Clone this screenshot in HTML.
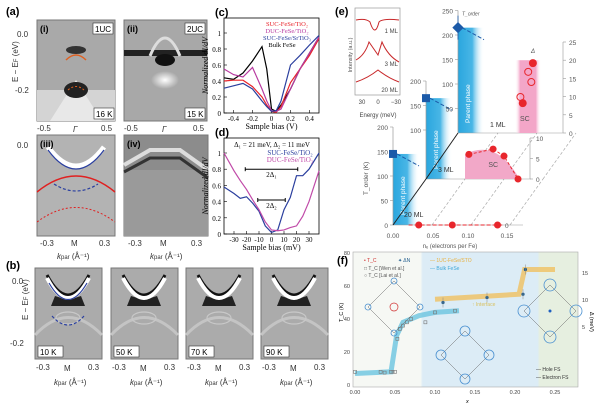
<!DOCTYPE html>
<html><head><meta charset="utf-8"><style>
body{margin:0;background:#fff;width:600px;height:406px;overflow:hidden}
svg{display:block;font-family:"Liberation Sans",sans-serif}
.serif{font-family:"Liberation Serif",serif}
</style></head><body>
<svg id="fig" width="600" height="406" viewBox="0 0 600 406">
<defs>
<linearGradient id="blueFade" x1="0" x2="1"><stop offset="0" stop-color="#2aa6de"/><stop offset="0.55" stop-color="#49b6e6"/><stop offset="1" stop-color="#fff" stop-opacity="0"/></linearGradient>
<linearGradient id="pinkFade" x1="0" x2="1"><stop offset="0" stop-color="#fff" stop-opacity="0"/><stop offset="0.2" stop-color="#f3a6c8"/><stop offset="0.8" stop-color="#f3a6c8"/><stop offset="1" stop-color="#fff" stop-opacity="0"/></linearGradient>
<linearGradient id="fbg" x1="0" x2="1"><stop offset="0" stop-color="#f6f8f4"/><stop offset="0.3" stop-color="#f6f8f4"/><stop offset="0.31" stop-color="#dcecf6"/><stop offset="0.82" stop-color="#dcecf6"/><stop offset="0.83" stop-color="#e6efe0"/><stop offset="1" stop-color="#e6efe0"/></linearGradient>
<radialGradient id="spot"><stop offset="0" stop-color="#fff"/><stop offset="1" stop-color="#fff" stop-opacity="0"/></radialGradient>
</defs>

<text x="6" y="15" font-size="11" font-weight="bold">(a)</text>
<g>
<rect x="37" y="20" width="78" height="101" fill="#a9a9a9" stroke="#777"/>
<rect x="37" y="90" width="78" height="31" fill="#d4d4d4"/>
<path d="M50 121 L76 80 L102 121Z" fill="#e8e8e8"/>
<ellipse cx="76" cy="90" rx="12" ry="8" fill="#222"/>
<ellipse cx="76" cy="50" rx="10" ry="4" fill="#333"/>
<path d="M66 60 Q76 50 86 60" stroke="#e06020" stroke-width="1.5" fill="none"/>
<path d="M68 90 Q76 83 84 90" stroke="#e06020" stroke-width="1" stroke-dasharray="2,2" fill="none"/>
<text x="40" y="32" font-size="9" font-weight="bold">(i)</text>
<rect x="93" y="23" width="20" height="11" fill="#fff" stroke="#333" stroke-width=".6"/><text x="95" y="32" font-size="8">1UC</text>
<rect x="94" y="108" width="20" height="11" fill="#fff" stroke="#333" stroke-width=".6"/><text x="96" y="117" font-size="8">16 K</text>
</g>
<g>
<rect x="124" y="20" width="83" height="101" fill="#a8a8a8" stroke="#777"/>
<rect x="124" y="50" width="83" height="6" fill="#222"/>
<ellipse cx="165" cy="60" rx="10" ry="6" fill="#111"/>
<path d="M150 56 Q165 20 180 56" stroke="#ddd" stroke-width="3" fill="none"/>
<ellipse cx="165" cy="80" rx="14" ry="9" fill="url(#spot)"/>
<text x="127" y="32" font-size="9" font-weight="bold">(ii)</text>
<rect x="185" y="23" width="20" height="11" fill="#fff" stroke="#333" stroke-width=".6"/><text x="187" y="32" font-size="8">2UC</text>
<rect x="185" y="108" width="20" height="11" fill="#fff" stroke="#333" stroke-width=".6"/><text x="187" y="117" font-size="8">15 K</text>
</g>
<g font-size="8" fill="#333">
<text x="17" y="37">0.0</text><text x="15" y="93">-0.2</text>
<text x="6" y="90" transform="rotate(-90 8 80)" font-size="8">E − E<tspan font-size="6">F</tspan> (eV)</text>
<text x="37" y="131">-0.5</text><text x="73" y="132" font-style="italic">Γ</text><text x="101" y="131">0.5</text>
<text x="124" y="131">-0.5</text><text x="162" y="132" font-style="italic">Γ</text><text x="193" y="131">0.5</text>
</g>
<g>
<rect x="37" y="135" width="78" height="101" fill="#b3b3b3" stroke="#777"/>
<path d="M48 147 Q76 185 104 147" stroke="#fff" stroke-width="5" fill="none"/>
<path d="M48 150 Q76 188 104 150" stroke="#2a3fa0" stroke-width="1.2" fill="none"/>
<path d="M37 192 Q76 160 115 192" stroke="#e02020" stroke-width="1.5" fill="none"/>
<path d="M54 184 Q76 198 98 184" stroke="#2a3fa0" stroke-width="1.2" stroke-dasharray="3,2" fill="none"/>
<path d="M37 222 Q76 193 115 222" stroke="#e02020" stroke-width="1" stroke-dasharray="2,2" fill="none"/>
<text x="40" y="147" font-size="9" font-weight="bold">(iii)</text>
</g>
<g>
<rect x="124" y="135" width="84" height="101" fill="#8c8c8c" stroke="#777"/>
<rect x="124" y="170" width="84" height="66" fill="#9a9a9a"/>
<path d="M124 165 L150 150 L180 150 L208 170" stroke="#ddd" stroke-width="4" fill="none"/>
<path d="M124 172 L150 158 L180 158 L208 178" stroke="#333" stroke-width="3" fill="none"/>
<text x="127" y="147" font-size="9" font-weight="bold">(iv)</text>
</g>
<g font-size="8" fill="#333">
<text x="17" y="148">0.0</text>
<text x="40" y="246">-0.3</text><text x="71" y="246">M</text><text x="99" y="246">0.3</text>
<text x="128" y="246">-0.3</text><text x="160" y="246">M</text><text x="191" y="246">0.3</text>
<text x="57" y="259" font-style="italic">k<tspan font-size="6" font-style="normal">par</tspan><tspan font-style="normal"> (Å⁻¹)</tspan></text>
<text x="150" y="259" font-style="italic">k<tspan font-size="6" font-style="normal">par</tspan><tspan font-style="normal"> (Å⁻¹)</tspan></text>
</g>

<text x="6" y="269" font-size="11" font-weight="bold">(b)</text>
<g id="bpanels"></g>
<g font-size="8" fill="#333">
<text x="12" y="284">0.0</text><text x="10" y="346">-0.2</text>
<text x="4" y="336" transform="rotate(-90 8 316)">E − E<tspan font-size="6">F</tspan> (eV)</text>
</g>

<g id="cd"></g>
<g id="eg"></g>
<g id="fg"></g>
</svg>
<script>
const NS="http://www.w3.org/2000/svg";
function mk(parent,tag,attrs,txt){const e=document.createElementNS(NS,tag);for(const k in attrs)e.setAttribute(k,attrs[k]);if(txt!==undefined)e.textContent=txt;parent.appendChild(e);return e;}

/* ---------- (b) panels ---------- */
const bTemps=["10 K","50 K","70 K","90 K"];
const bX=[35,111,186,261];
const bg=document.getElementById('bpanels');
bTemps.forEach((t,i)=>{
  const g=mk(bg,'g',{});
  
  
  const x=bX[i],w=67;
  mk(g,'rect',{x:x,y:268,width:w,height:91,fill:'#ababab',stroke:'#777'});
  mk(g,'path',{d:`M${x} 335 Q${x+33} 300 ${x+w} 335`,stroke:'#c4c4c4','stroke-width':3,fill:'none'});
  mk(g,'path',{d:`M${x+20} 296 L${x+33} 300 L${x+46} 296 L${x+50} 306 L${x+16} 306Z`,fill:'#222'});
  mk(g,'path',{d:`M${x+12} 278 Q${x+33} 318 ${x+54} 278`,stroke:'#111','stroke-width':3,fill:'none',transform:'translate(0,-3)'});
  mk(g,'path',{d:`M${x+12} 278 Q${x+33} 318 ${x+54} 278`,stroke:'#fff','stroke-width':4,fill:'none'});
  mk(g,'ellipse',{cx:x+33,cy:318,rx:12,ry:6,fill:'none',stroke:'#c8c8c8','stroke-width':1.2});
  if(i===0){
    mk(g,'path',{d:`M${x+14} 283 Q${x+33} 316 ${x+52} 283`,stroke:'#2a3fa0','stroke-width':1.2,fill:'none'});
    mk(g,'path',{d:`M${x+17} 316 Q${x+33} 334 ${x+49} 316`,stroke:'#2a3fa0','stroke-width':1.2,'stroke-dasharray':'3,2',fill:'none'});
  }
  mk(g,'rect',{x:x+3,y:346,width:25,height:11,fill:'#fff',stroke:'#333','stroke-width':.6});
  mk(g,'text',{x:x+5,y:355,'font-size':8},t);
  const a=mk(g,'g',{'font-size':8,fill:'#333'});
  mk(a,'text',{x:x+1,y:370},'-0.3');mk(a,'text',{x:x+29,y:371},'M');mk(a,'text',{x:x+53,y:370},'0.3');
  const kl=mk(a,'text',{x:x+19,y:385,'font-style':'italic'},'k');
  mk(kl,'tspan',{'font-size':6,'font-style':'normal'},'par');
  mk(kl,'tspan',{'font-style':'normal'},' (Å⁻¹)');
});

/* ---------- (c) data ---------- */
const cBias=[-0.5,-0.4,-0.3,-0.2,-0.1,-0.05,0,0.05,0.1,0.2,0.3,0.4,0.5];
const cBulk=[0.44,0.42,0.50,0.65,0.83,0.55,0.05,0.02,0.10,0.30,0.55,0.75,0.95];
const cSucTi=[0.40,0.41,0.41,0.33,0.20,0.10,0.02,0.01,0.08,0.38,0.55,0.72,0.93];
const cDuc=[0.55,0.48,0.45,0.57,0.30,0.15,0.03,0.02,0.05,0.30,0.55,0.75,0.95];
const cSucSr=[0.31,0.34,0.37,0.30,0.15,0.08,0.02,0.03,0.15,0.60,0.72,0.85,0.97];
const cTicksX=[-0.4,-0.2,0,0.2,0.4];
const cTicksY=[0,0.2,0.4,0.6,0.8,1];
/* ---------- (d) data ---------- */
const dBias=[-38,-30,-25,-20,-15,-10,-5,0,5,10,15,20,25,30,38];
const dSuc=[0.58,0.50,0.44,0.46,0.38,0.28,0.10,0.02,0.05,0.30,0.45,0.72,0.72,0.80,1.00];
const dDuc=[1.00,0.78,0.66,0.55,0.42,0.30,0.15,0.05,0.04,0.05,0.08,0.10,0.22,0.40,0.78];
const dTicksX=[-30,-20,-10,0,10,20,30];
const dTicksY=[0,0.2,0.4,0.6,0.8,1];

const cd=document.getElementById('cd');
function linePlot(cfg){
  const {x0,x1,yTop,y0,xmin,xmax,series,xs,ticksX,ticksY,name,label,xlabel}=cfg;
  const sx=v=>x0+(v-xmin)/(xmax-xmin)*(x1-x0);
  const sy=v=>y0-v*(y0-yTop-15);
  const g=mk(cd,'g',{});
  
  
  const box=mk(g,'rect',{x:x0,y:yTop,width:x1-x0,height:y0-yTop,fill:'none',stroke:'#000','stroke-width':.8});
  
  
  ticksX.forEach(t=>{mk(g,'line',{x1:sx(t),x2:sx(t),y1:y0,y2:y0-3,stroke:'#000','stroke-width':.6});
    const tl=mk(g,'text',{x:sx(t),y:y0+8,'font-size':7,'text-anchor':'middle',class:'serif'},String(t));
    
    });
  ticksY.forEach(t=>{mk(g,'line',{x1:x0,x2:x0+3,y1:sy(t),y2:sy(t),stroke:'#000','stroke-width':.6});
    const tl=mk(g,'text',{x:x0-3,y:sy(t)+3,'font-size':7,'text-anchor':'end',class:'serif'},String(t));
    
    });
  series.forEach(s=>{
    const p=mk(g,'polyline',{points:xs.map((v,i)=>sx(v)+','+sy(s.v[i])).join(' '),fill:'none',stroke:s.c,'stroke-width':1.2});
    
    
  });
  const xl=mk(g,'text',{x:(x0+x1)/2,y:y0+16,'font-size':8,'text-anchor':'middle',class:'serif'},xlabel);
  
  
  const yl=mk(g,'text',{x:0,y:0,'font-size':8,'text-anchor':'middle',class:'serif','font-style':'italic',transform:`translate(${x0-16},${(yTop+y0)/2}) rotate(-90)`},'Normalized dI/dV');
  
  
  const pl=mk(g,'text',{x:x0-9,y:yTop-2,'font-size':11,'font-weight':'bold'},label);
  
  
  return {g,sx,sy};
}
const c=linePlot({x0:224,x1:319,yTop:18,y0:113,xmin:-0.5,xmax:0.5,xs:cBias,ticksX:cTicksX,ticksY:cTicksY,name:'panel-c-chart',label:'(c)',xlabel:'Sample bias (V)',
  series:[{n:'bulk-fese',c:'#000',v:cBulk},{n:'suc-fese-tio2',c:'#e8232a',v:cSucTi},{n:'duc-fese-tio2',c:'#b83aa0',v:cDuc},{n:'suc-fese-srtio3',c:'#2b3f9e',v:cSucSr}]});
[['SUC-FeSe/TiO₂','#e8232a',26],['DUC-FeSe/TiO₂','#b83aa0',33],['SUC-FeSe/SrTiO₃','#2b3f9e',40],['Bulk FeSe','#000',47]].forEach(l=>{
  const t=mk(c.g,'text',{x:l[2]===47?282:287,y:l[2],'font-size':6.5,'text-anchor':'middle',fill:l[1],class:'serif'},l[0]);
  
  
});
const d=linePlot({x0:224,x1:319,yTop:138,y0:234,xmin:-38,xmax:38,xs:dBias,ticksX:dTicksX,ticksY:dTicksY,name:'panel-d-chart',label:'(d)',xlabel:'Sample bias (mV)',
  series:[{n:'suc-fese-tio2',c:'#2b3f9e',v:dSuc},{n:'duc-fese-tio2',c:'#c04aa8',v:dDuc}]});
[['Δ₁ = 21 meV, Δ₂ = 11 meV','#000',147],['SUC-FeSe/TiO₂','#2b3f9e',155],['DUC-FeSe/TiO₂','#c04aa8',162]].forEach((l,i)=>{
  const t=mk(d.g,'text',{x:i?290:272,y:l[2],'font-size':7,'text-anchor':'middle',fill:l[1],class:'serif'},l[0]);
  
  
});
const d1=21,d2=11;
[[d1,0.8,'2Δ₁'],[d2,0.42,'2Δ₂']].forEach(a=>{
  const y=d.sy(a[1]);
  mk(d.g,'line',{x1:d.sx(-a[0]),x2:d.sx(a[0]),y1:y,y2:y,stroke:'#000','stroke-width':1});
  mk(d.g,'line',{x1:d.sx(-a[0]),x2:d.sx(-a[0]),y1:y-2,y2:y+2,stroke:'#000'});
  mk(d.g,'line',{x1:d.sx(a[0]),x2:d.sx(a[0]),y1:y-2,y2:y+2,stroke:'#000'});
  mk(d.g,'text',{x:d.sx(0),y:y+8,'font-size':7,'text-anchor':'middle',class:'serif'},a[2]);
});

/* ---------- (e) ---------- */
const eg=document.getElementById('eg');
mk(eg,'text',{x:335,y:15,'font-size':11,'font-weight':'bold'},'(e)');
const inset=mk(eg,'g',{});


mk(inset,'rect',{x:355,y:8,width:45,height:87,fill:'#fff',stroke:'#999','stroke-width':.7});
mk(inset,'path',{d:'M356 20 Q366 18 370 22 Q375 38 379 22 Q383 18 399 20',stroke:'#c8282a',fill:'none','stroke-width':1});
mk(inset,'path',{d:'M356 60 Q365 55 369 42 L378 55 L382 42 Q388 56 399 62',stroke:'#c8282a',fill:'none','stroke-width':1});
mk(inset,'path',{d:'M356 82 Q368 78 378 70 Q388 78 399 82',stroke:'#c8282a',fill:'none','stroke-width':1});
[['1 ML',33],['3 ML',66],['20 ML',92]].forEach(l=>mk(inset,'text',{x:398,y:l[1],'font-size':6,'text-anchor':'end',fill:'#444'},l[0]));
mk(inset,'text',{x:0,y:0,'font-size':5.5,fill:'#555','text-anchor':'middle',transform:'translate(352,55) rotate(-90)'},'Intensity (a.u.)');
[['30',362],['0',378],['−30',396]].forEach(l=>mk(inset,'text',{x:l[1],y:104,'font-size':6,'text-anchor':'middle',fill:'#444'},l[0]));
mk(inset,'text',{x:378,y:117,'font-size':6,'text-anchor':'middle',fill:'#444'},'Energy (meV)');

// 3D diagram data (layer order: 20 ML, 3 ML, 1 ML)
const eTorder=[145,165,215];
const eSC3x=[0.055,0.086,0.10,0.118];
const eSC3d=[6,7.3,5.6,0];
const e1mlX=[0.096,0.09,0.094,0.08,0.083];
const e1mlD=[19.2,16.8,14,9.9,8.2];
const e1mlFilled=[1,0,0,0,1];
const e20x=[0.033,0.076,0.134];
const layers=[{ox:393,oy:225,sT:(225-127)/200,label:'20 ML',lx:404,ly:217},{ox:426,oy:179,sT:(179-81)/200,label:'3 ML',lx:438,ly:172},{ox:458,oy:133,sT:(133-35)/200,label:'1 ML',lx:490,ly:127}];
const nx=v=>v*780;
const e3=mk(eg,'g',{});


layers.forEach((L,i)=>{
  const g=mk(e3,'g',{});
  
  
  const Ty=L.oy-eTorder[i]*L.sT;
  mk(g,'rect',{x:L.ox,y:Ty,width:26,height:L.oy-Ty,fill:'url(#blueFade)'});
  const tks=i==2?[50,100,150,200,250]:i==1?[100,150,200]:[0,50,100,150,200];
  mk(g,'line',{x1:L.ox,x2:L.ox,y1:L.oy,y2:L.oy-tks[tks.length-1]*L.sT,stroke:'#999','stroke-width':.7});
  tks.forEach(t=>{
    const y=L.oy-t*L.sT;
    mk(g,'line',{x1:L.ox-3,x2:L.ox,y1:y,y2:y,stroke:'#999','stroke-width':.6});
    const tl=mk(g,'text',{x:L.ox-5,y:y+3,'font-size':6.5,'text-anchor':'end',fill:'#555'},String(t));
    
    
  });
  if(i==2){mk(g,'line',{x1:L.ox,x2:L.ox,y1:Ty-12,y2:Ty+12,stroke:'#1c5aa8','stroke-width':.8});
    mk(g,'text',{x:L.ox+4,y:Ty-12,'font-size':5,fill:'#555','font-style':'italic'},'T_order');}
  const mkr=mk(g,'rect',{x:L.ox-4,y:Ty-4,width:8,height:8,fill:'#1c5aa8',transform:i==2?`rotate(45 ${L.ox} ${Ty})`:''});
  
  
  mk(g,'line',{x1:L.ox+4,y1:Ty,x2:L.ox+26,y2:Ty+12,stroke:'#1c5aa8','stroke-dasharray':'4,2'});
  mk(g,'text',{x:0,y:0,'font-size':6.5,fill:'#fff',transform:`translate(${L.ox+12},${L.oy-10}) rotate(-90)`},'Parent phase');
  mk(g,'line',{x1:L.ox,x2:L.ox+(i==0?130:105),y1:L.oy,y2:L.oy,stroke:'#999','stroke-width':.6});
  if(i<2)[0.05,0.10,0.15].forEach(v=>{
    mk(g,'line',{x1:L.ox+nx(v),y1:L.oy,x2:L.ox+nx(v)+33,y2:L.oy-46,stroke:'#aaa','stroke-dasharray':'3,2','stroke-width':.7});
  });
  mk(g,'text',{x:L.lx,y:L.ly,'font-size':7,fill:'#333'},L.label);
});
mk(e3,'line',{x1:393,y1:225,x2:426,y2:179,stroke:'#222','stroke-width':1});
mk(e3,'line',{x1:426,y1:179,x2:458,y2:133,stroke:'#222','stroke-width':1});
// 3ML SC dome
const g3=layers[1], dS=(179-138)/10;
mk(e3,'path',{d:`M${g3.ox+nx(0.05)} ${g3.oy} L${g3.ox+nx(0.05)} ${g3.oy-6*dS} Q${g3.ox+nx(0.09)} ${g3.oy-10*dS} ${g3.ox+nx(0.12)} ${g3.oy}Z`,fill:'#f2a8c8'});
mk(e3,'text',{x:g3.ox+nx(0.08),y:g3.oy-12,'font-size':7,fill:'#555'},'SC');
mk(e3,'polyline',{points:eSC3x.map((v,i)=>(g3.ox+nx(v))+','+(g3.oy-eSC3d[i]*dS)).join(' '),fill:'none',stroke:'#e8262c','stroke-dasharray':'3,2'});
eSC3x.forEach((v,i)=>{const p=mk(e3,'circle',{cx:g3.ox+nx(v),cy:g3.oy-eSC3d[i]*dS,r:3.5,fill:'#e8262c'});
  
  });
mk(e3,'line',{x1:530,x2:530,y1:g3.oy,y2:g3.oy-10*dS,stroke:'#999','stroke-width':.6});
[0,5,10].forEach(t=>{mk(e3,'line',{x1:530,x2:533,y1:g3.oy-t*dS,y2:g3.oy-t*dS,stroke:'#999','stroke-width':.6});
  mk(e3,'text',{x:536,y:g3.oy-t*dS+3,'font-size':6.5,fill:'#555'},String(t));});
// 1ML
const g1=layers[2], dS1=(133-42)/25;
mk(e3,'rect',{x:g1.ox+57,y:g1.oy-20*dS1,width:26,height:20*dS1,fill:'url(#pinkFade)'});
mk(e3,'text',{x:g1.ox+62,y:g1.oy-12,'font-size':7,fill:'#555'},'SC');
mk(e3,'text',{x:g1.ox+73,y:g1.oy-80,'font-size':6,fill:'#555','font-style':'italic'},'Δ');
e1mlX.forEach((v,i)=>{const p=mk(e3,'circle',{cx:g1.ox+nx(v),cy:g1.oy-e1mlD[i]*dS1,r:3.5,fill:e1mlFilled[i]?'#e8262c':'none',stroke:'#e8262c'});
  
  });
mk(e3,'line',{x1:563,x2:563,y1:133,y2:42,stroke:'#999','stroke-width':.6});
[0,5,10,15,20,25].forEach(t=>{mk(e3,'line',{x1:563,x2:566,y1:133-t*dS1,y2:133-t*dS1,stroke:'#999','stroke-width':.6});
  mk(e3,'text',{x:569,y:136-t*dS1,'font-size':6.5,fill:'#555'},String(t));});
// 20ML
const g20=layers[0];
mk(e3,'line',{x1:g20.ox+nx(0.02),x2:g20.ox+nx(0.14),y1:225,y2:225,stroke:'#e8262c','stroke-dasharray':'4,2'});
e20x.forEach(v=>{const p=mk(e3,'circle',{cx:g20.ox+nx(v),cy:225,r:3.5,fill:'#e8262c'});
  
  });
mk(e3,'text',{x:505,y:228,'font-size':6.5,fill:'#555'},'0');
[[0,393],[0.05,433],[0.10,468],[0.15,507]].forEach(v=>mk(e3,'text',{x:v[1],y:238,'font-size':6.5,'text-anchor':'middle',fill:'#555'},v[0].toFixed(2)));
mk(e3,'text',{x:450,y:248,'font-size':6,'text-anchor':'middle',fill:'#555'},'nₑ (electrons per Fe)');
mk(e3,'text',{x:0,y:0,'font-size':6.5,fill:'#555',transform:'translate(368,195) rotate(-90)'},'T_order (K)');

/* ---------- (f) ---------- */
const fCats=[0,0.05,0.10,0.15,0.20,0.25];
const fTcX=[0,0.032,0.037,0.045,0.047,0.05,0.053,0.056,0.06,0.065,0.07,0.088,0.1,0.125];
const fTcY=[8,8,7.5,8,8,8,28,34,36,38,40,38,44,45];
const fInterfaceX=[0.11,0.165,0.21,0.213];
const fInterfaceY=[50,53,55,70];
const fBulkX=[0,0.045,0.052,0.06,0.08,0.1,0.13];
const fBulkY=[7,8,30,38,42,44,45];
const fYTicks=[0,20,40,60,80];
const fRTicks=[5,10,15];
const fg=document.getElementById('fg');
mk(fg,'text',{x:337,y:264,'font-size':11,'font-weight':'bold'},'(f)');
const fx=v=>355+v/0.25*200, fy=v=>385-v/80*132, fr=v=>354-v*5.4;
const fp=mk(fg,'g',{});


mk(fp,'rect',{x:353,y:252,width:225,height:135,fill:'url(#fbg)',stroke:'#aaa','stroke-width':.6});
fYTicks.forEach(t=>{mk(fp,'text',{x:350,y:fy(t)+2,'font-size':5.5,'text-anchor':'end',fill:'#444'},String(t));});
fRTicks.forEach(t=>{mk(fp,'text',{x:582,y:fr(t)+2,'font-size':5.5,fill:'#444'},String(t));});
fCats.forEach(t=>mk(fp,'text',{x:fx(t),y:394,'font-size':5.5,'text-anchor':'middle',fill:'#444'},t.toFixed(2)));
mk(fp,'text',{x:466,y:403,'font-size':5.5,'font-style':'italic'},'x');
mk(fp,'text',{x:0,y:0,'font-size':5.5,transform:'translate(343,322) rotate(-90)'},'T_C (K)');
mk(fp,'text',{x:0,y:0,'font-size':5.5,transform:'translate(590,312) rotate(90)'},'Δ (meV)');
const bl=mk(fp,'polyline',{points:fBulkX.map((v,i)=>fx(v)+','+fy(fBulkY[i])).join(' '),fill:'none',stroke:'#6cc4e0','stroke-width':5,'stroke-opacity':.8});


const il=mk(fp,'polyline',{points:[[0.1,52],[0.205,55],[0.212,70],[0.25,70]].map(p=>fx(p[0])+','+fy(p[1])).join(' '),fill:'none',stroke:'#f0c060','stroke-width':5,'stroke-opacity':.8});


fTcX.forEach((v,i)=>{const p=mk(fp,'rect',{x:fx(v)-1.5,y:fy(fTcY[i])-1.5,width:3,height:3,fill:'none',stroke:'#777','stroke-width':.6});
  
  });
fInterfaceX.forEach((v,i)=>{const p=mk(fp,'circle',{cx:fx(v),cy:fy(fInterfaceY[i]),r:1.6,fill:'#1d5a8c'});
  
  
  mk(fp,'line',{x1:fx(v),x2:fx(v),y1:fy(fInterfaceY[i])-5,y2:fy(fInterfaceY[i])+5,stroke:'#888','stroke-width':.5});});
function fs(cx,cy,r,rr){const g=mk(fp,'g',{});mk(g,'path',{d:`M${cx} ${cy-r} L${cx+r} ${cy} L${cx} ${cy+r} L${cx-r} ${cy}Z`,fill:'none',stroke:'#666','stroke-width':.5});
  [[0,-r],[r,0],[0,r],[-r,0]].forEach(o=>mk(g,'circle',{cx:cx+o[0],cy:cy+o[1],r:rr,fill:'none',stroke:'#4a90d0','stroke-width':.8}));return g;}
fs(394,307,26,3);mk(fp,'circle',{cx:394,cy:307,r:4,fill:'none',stroke:'#d03030','stroke-width':.7});
fs(465,355,24,5);fs(550,311,26,6);mk(fp,'circle',{cx:550,cy:311,r:1.5,fill:'#2060c0'});
const lg=[['• T_C','#d03030',262,364],['□ T_C [Wen et al.]','#555',270,364],['○ T_C [Lai et al.]','#555',277,364],['✦ ΔN','#1d5a8c',262,398],['— 1UC-FeSe/STO','#e8b040',262,430],['— Bulk FeSe','#40a8d8',270,430]];
lg.forEach(l=>{const t=mk(fp,'text',{x:l[3],y:l[2],'font-size':5,fill:l[1]},l[0]);
  
  });
mk(fp,'text',{x:536,y:371,'font-size':5,fill:'#333'},'— Hole FS');
mk(fp,'text',{x:536,y:379,'font-size':5,fill:'#333'},'— Electron FS');
mk(fp,'text',{x:472,y:306,'font-size':5,fill:'#d8c060'},'↑ Interface');
</script>
</body></html>
